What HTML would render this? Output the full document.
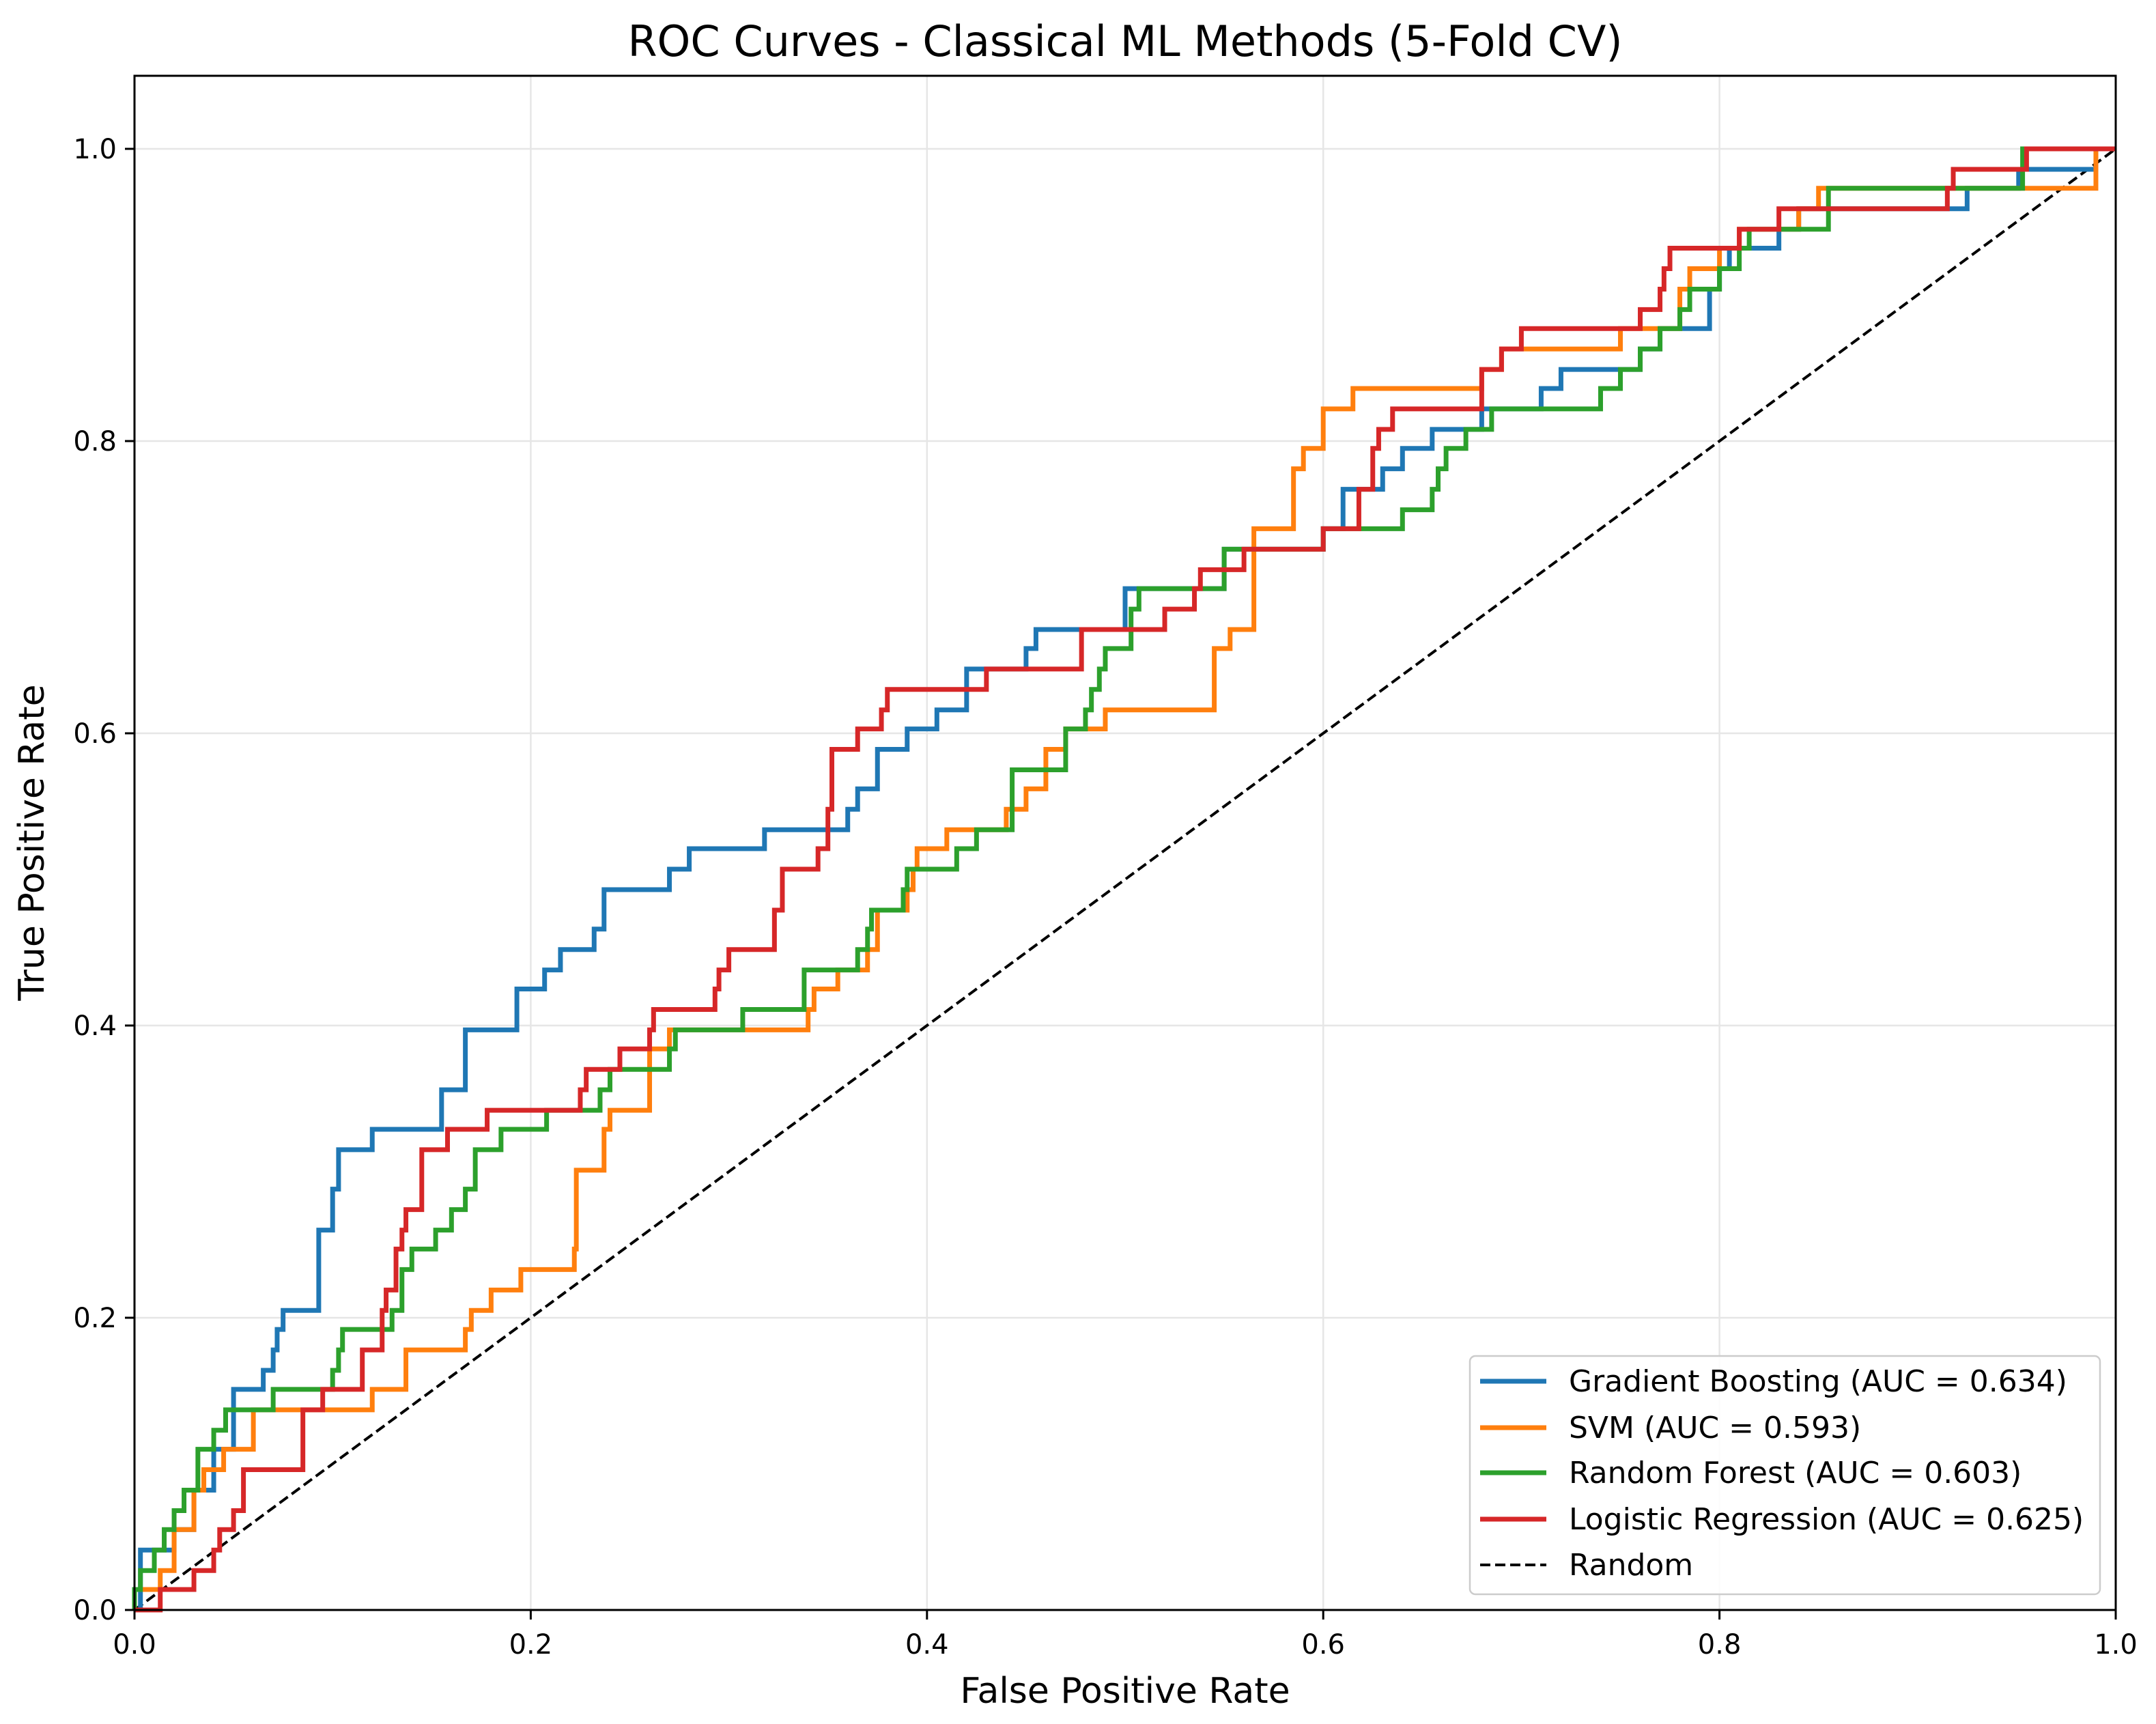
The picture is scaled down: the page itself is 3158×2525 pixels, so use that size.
<!DOCTYPE html>
<html><head><meta charset="utf-8"><style>
html,body{margin:0;padding:0;background:#fff;}
svg{display:block;font-family:"DejaVu Sans","Liberation Sans",sans-serif;}
</style></head><body>
<svg id="chart" width="3158" height="2525" viewBox="0 0 3158 2525" xmlns="http://www.w3.org/2000/svg">
<rect x="0" y="0" width="3158" height="2525" fill="#fff"/>
<text x="1648" y="82" font-size="62" text-anchor="middle" fill="#000">ROC Curves - Classical ML Methods (5-Fold CV)</text>
<g id="grid"></g>
<g id="series"></g>
<rect x="197" y="111" width="2902" height="2247" fill="none" stroke="#000" stroke-width="3"/>
<g id="ticks"></g>
<text x="1648" y="2494" font-size="52" text-anchor="middle" fill="#000">False Positive Rate</text>
<text x="64" y="1234" font-size="52" text-anchor="middle" fill="#000" transform="rotate(-90 64 1234)">True Positive Rate</text>
<g id="legend"></g>
</svg>
<script>
const xTicks=[0,0.2,0.4,0.6,0.8,1.0];
const yTicks=[0,0.2,0.4,0.6,0.8,1.0];
const xTickLabels=["0.0","0.2","0.4","0.6","0.8","1.0"];
const yTickLabels=["0.0","0.2","0.4","0.6","0.8","1.0"];
const seriesNames=["Gradient Boosting (AUC = 0.634)","SVM (AUC = 0.593)","Random Forest (AUC = 0.603)","Logistic Regression (AUC = 0.625)"];
const gbFpr=[0.003,0.02,0.03,0.04,0.05,0.065,0.07,0.072,0.075,0.093,0.1,0.103,0.12,0.155,0.167,0.193,0.207,0.215,0.232,0.237,0.27,0.28,0.318,0.36,0.365,0.375,0.39,0.405,0.42,0.45,0.455,0.5,0.55,0.6,0.61,0.63,0.64,0.655,0.68,0.71,0.72,0.76,0.77,0.795,0.8,0.805,0.83,0.84,0.925,0.951,0.99];
const gbTpr=[0.041,0.055,0.082,0.11,0.151,0.164,0.178,0.192,0.205,0.26,0.288,0.315,0.329,0.356,0.397,0.425,0.438,0.452,0.466,0.493,0.507,0.521,0.534,0.548,0.562,0.589,0.603,0.616,0.644,0.658,0.671,0.699,0.726,0.74,0.767,0.781,0.795,0.808,0.822,0.836,0.849,0.863,0.877,0.904,0.918,0.932,0.945,0.959,0.973,0.986,1.0];
const svmFpr=[0.0,0.013,0.02,0.03,0.035,0.045,0.06,0.12,0.137,0.167,0.17,0.18,0.195,0.222,0.223,0.237,0.24,0.26,0.27,0.34,0.343,0.355,0.37,0.375,0.39,0.393,0.395,0.41,0.44,0.45,0.46,0.47,0.49,0.545,0.553,0.565,0.585,0.59,0.6,0.615,0.68,0.69,0.75,0.78,0.785,0.8,0.81,0.84,0.85,0.99];
const svmTpr=[0.014,0.027,0.055,0.082,0.096,0.11,0.137,0.151,0.178,0.192,0.205,0.219,0.233,0.247,0.301,0.329,0.342,0.384,0.397,0.411,0.425,0.438,0.452,0.479,0.493,0.507,0.521,0.534,0.548,0.562,0.589,0.603,0.616,0.658,0.671,0.74,0.781,0.795,0.822,0.836,0.849,0.863,0.877,0.904,0.918,0.932,0.945,0.959,0.973,1.0];
const rfFpr=[0.0,0.003,0.01,0.015,0.02,0.025,0.032,0.04,0.046,0.07,0.1,0.103,0.105,0.13,0.135,0.14,0.152,0.16,0.167,0.172,0.185,0.208,0.235,0.24,0.27,0.273,0.307,0.338,0.365,0.37,0.372,0.388,0.39,0.415,0.425,0.443,0.47,0.48,0.483,0.487,0.49,0.503,0.507,0.55,0.6,0.64,0.655,0.658,0.662,0.672,0.685,0.74,0.75,0.76,0.77,0.78,0.785,0.8,0.81,0.815,0.855,0.953];
const rfTpr=[0.014,0.027,0.041,0.055,0.068,0.082,0.11,0.123,0.137,0.151,0.164,0.178,0.192,0.205,0.233,0.247,0.26,0.274,0.288,0.315,0.329,0.342,0.356,0.37,0.384,0.397,0.411,0.438,0.452,0.466,0.479,0.493,0.507,0.521,0.534,0.575,0.603,0.616,0.63,0.644,0.658,0.685,0.699,0.726,0.74,0.753,0.767,0.781,0.795,0.808,0.822,0.836,0.849,0.863,0.877,0.89,0.904,0.918,0.932,0.945,0.973,1.0];
const lrFpr=[0.013,0.03,0.04,0.043,0.05,0.055,0.085,0.095,0.115,0.125,0.127,0.132,0.135,0.137,0.145,0.158,0.178,0.225,0.228,0.245,0.26,0.262,0.293,0.295,0.3,0.323,0.327,0.345,0.35,0.352,0.365,0.377,0.38,0.43,0.478,0.52,0.535,0.538,0.56,0.6,0.618,0.625,0.628,0.635,0.68,0.69,0.7,0.76,0.77,0.772,0.775,0.81,0.83,0.915,0.918,0.955];
const lrTpr=[0.014,0.027,0.041,0.055,0.068,0.096,0.137,0.151,0.178,0.205,0.219,0.247,0.26,0.274,0.315,0.329,0.342,0.356,0.37,0.384,0.397,0.411,0.425,0.438,0.452,0.479,0.507,0.521,0.548,0.589,0.603,0.616,0.63,0.644,0.671,0.685,0.699,0.712,0.726,0.74,0.767,0.795,0.808,0.822,0.849,0.863,0.877,0.89,0.904,0.918,0.932,0.945,0.959,0.973,0.986,1.0];
const seriesColors=["#1f77b4","#ff7f0e","#2ca02c","#d62728"];
const NS="http://www.w3.org/2000/svg";
const L=197,R=3099,T=111,B=2358,YMAX=1.05;
function sx(v){return L+v*(R-L);}
function sy(v){return B-v/YMAX*(B-T);}
function mk(tag,attrs,parent){const e=document.createElementNS(NS,tag);for(const k in attrs)e.setAttribute(k,attrs[k]);parent.appendChild(e);return e;}
const grid=document.getElementById('grid'),ticks=document.getElementById('ticks'),series=document.getElementById('series'),legend=document.getElementById('legend');
xTicks.forEach((v,i)=>{
  const g=mk('line',{x1:sx(v),x2:sx(v),y1:T,y2:B,stroke:'#e6e6e6','stroke-width':2.5},grid);
  
  
  const t=mk('line',{x1:sx(v),x2:sx(v),y1:B,y2:B+14,stroke:'#000','stroke-width':3},ticks);
  
  
  const l=mk('text',{x:sx(v),y:B+64,'font-size':40,'text-anchor':'middle',fill:'#000'},ticks);
  l.textContent=xTickLabels[i];
  
  
});
yTicks.forEach((v,i)=>{
  const g=mk('line',{x1:L,x2:R,y1:sy(v),y2:sy(v),stroke:'#e6e6e6','stroke-width':2.5},grid);
  
  
  const t=mk('line',{x1:L-14,x2:L,y1:sy(v),y2:sy(v),stroke:'#000','stroke-width':3},ticks);
  
  
  const l=mk('text',{x:L-26,y:sy(v)+14,'font-size':40,'text-anchor':'end',fill:'#000'},ticks);
  l.textContent=yTickLabels[i];
  
  
});
const diag=mk('line',{x1:sx(0),y1:sy(0),x2:sx(1),y2:sy(1),stroke:'#000','stroke-width':4,'stroke-dasharray':'15,7'},series);


const allF=[gbFpr,svmFpr,rfFpr,lrFpr],allT=[gbTpr,svmTpr,rfTpr,lrTpr];
const curveNames=['gradient-boosting-curve','svm-curve','random-forest-curve','logistic-regression-curve'];
allF.forEach((f,k)=>{
  const t=allT[k];
  let d='M'+sx(0)+','+sy(0);
  for(let i=0;i<f.length;i++){d+=' H'+sx(f[i])+' V'+sy(t[i]);}
  d+=' H'+sx(1);
  const p=mk('path',{d:d,fill:'none',stroke:seriesColors[k],'stroke-width':7,'stroke-linejoin':'miter'},series);
  
  
});
const box=mk('rect',{x:2153,y:1986,width:923,height:349,rx:8,fill:'#fff','fill-opacity':0.85,stroke:'#cccccc','stroke-width':2.5},legend);


const rowsY=[2023,2091,2157,2225,2292];
const labels=seriesNames.concat(['Random']);
labels.forEach((name,i)=>{
  const isDiag=i===4;
  const ln=mk('line',{x1:2168,x2:2265,y1:rowsY[i],y2:rowsY[i],stroke:isDiag?'#000':seriesColors[i],'stroke-width':isDiag?4:7,'stroke-dasharray':isDiag?'15,7':'none'},legend);
  
  
  const tx=mk('text',{x:2298,y:rowsY[i]+15,'font-size':44,fill:'#000'},legend);
  tx.textContent=name;
  
  
});
</script>
</body></html>
